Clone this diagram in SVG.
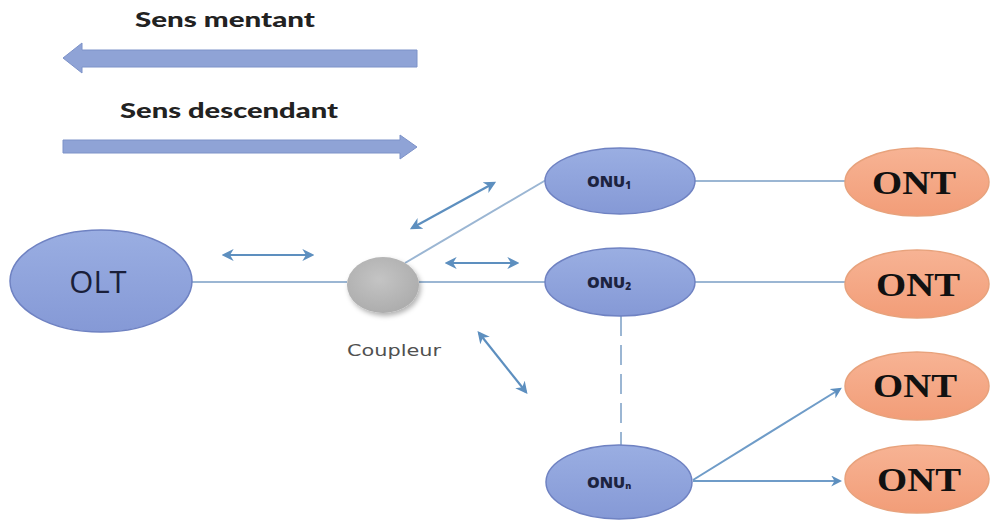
<svg xmlns="http://www.w3.org/2000/svg" width="995" height="521" viewBox="0 0 995 521">
<defs>
<style>
.link{stroke:#9bb6d3;stroke-width:2;fill:none}
.dbl{stroke:#5d8fbf;stroke-width:2.2;fill:none;marker-start:url(#ah);marker-end:url(#ah)}
.one{stroke:#6f9cc8;stroke-width:2;fill:none;marker-end:url(#ah)}
.onu{fill:url(#gOnu);stroke:#6f82c2;stroke-width:1.5}
.ont{fill:url(#gOnt);stroke:#e8a27c;stroke-width:1.5}
.big{fill:#8fa3d6;stroke:#7d92c8;stroke-width:1}
.h{font-family:Lato,"Open Sans","Liberation Sans",sans-serif;font-weight:900;font-size:20px;fill:#222}
.onut{font-family:"Open Sans","Liberation Sans",sans-serif;font-weight:800;font-size:16px;fill:#1c2340}
.ontt{font-family:"Liberation Serif",serif;font-weight:bold;font-size:33px;fill:#111}
</style>
<marker id="ah" viewBox="0 0 10 10" refX="8" refY="5" markerWidth="5.5" markerHeight="5.5" orient="auto-start-reverse" markerUnits="strokeWidth">
<path d="M0,0 L10,5 L0,10 L3,5 Z" fill="#5d8fbf"/>
</marker>
<linearGradient id="gOnu" x1="0" y1="0" x2="0" y2="1">
<stop offset="0" stop-color="#9aaee2"/><stop offset="1" stop-color="#8599d6"/>
</linearGradient>
<linearGradient id="gOnt" x1="0" y1="0" x2="0" y2="1">
<stop offset="0" stop-color="#f7b394"/><stop offset="1" stop-color="#f29d78"/>
</linearGradient>
<radialGradient id="gCoup" cx="0.45" cy="0.4" r="0.6">
<stop offset="0" stop-color="#c4c4c4"/><stop offset="1" stop-color="#adadad"/>
</radialGradient>
<filter id="sh" x="-30%" y="-30%" width="160%" height="170%">
<feDropShadow dx="2" dy="3" stdDeviation="2.5" flood-color="#000" flood-opacity="0.3"/>
</filter>
</defs>
<rect width="995" height="521" fill="#ffffff"/>

<g id="legend">
<text class="h" x="135" y="27" textLength="180" lengthAdjust="spacingAndGlyphs">Sens mentant</text>
<path class="big" d="M63,58 L82,43 L82,50 L417,50 L417,67 L82,67 L82,73 Z"/>
<text class="h" x="120" y="118" textLength="218" lengthAdjust="spacingAndGlyphs">Sens descendant</text>
<path class="big" d="M63,140 L400,140 L400,135 L417,147 L400,159 L400,153 L63,153 Z"/>
</g>

<g id="connectors">
<line class="link" x1="192" y1="282" x2="347" y2="282"/>
<line class="link" x1="419" y1="282" x2="545" y2="282"/>
<line class="link" x1="405" y1="263" x2="546" y2="180"/>
<line class="link" x1="695" y1="181" x2="846" y2="181"/>
<line class="link" x1="695" y1="282" x2="846" y2="282"/>
<line class="link" x1="621" y1="316" x2="621" y2="445" stroke-dasharray="20,9"/>
<line class="one" x1="693" y1="480" x2="840" y2="389"/>
<line class="one" x1="693" y1="481" x2="840" y2="481"/>
<line class="dbl" x1="224" y1="255" x2="312" y2="255"/>
<line class="dbl" x1="447" y1="263" x2="517" y2="263"/>
<line class="dbl" x1="412" y1="228" x2="494" y2="183"/>
<line class="dbl" x1="479" y1="333" x2="526" y2="392"/>
</g>

<g id="olt">
<ellipse class="onu" cx="101" cy="281" rx="91" ry="51"/>
<text x="98" y="293" text-anchor="middle" font-family="'Open Sans','Liberation Sans',sans-serif" font-size="31" fill="#1a1f3a">OLT</text>
</g>

<g id="coupleur">
<ellipse cx="383" cy="285" rx="36" ry="28" fill="url(#gCoup)" filter="url(#sh)"/>
<text x="347" y="356" textLength="94" lengthAdjust="spacingAndGlyphs" font-family="'DejaVu Sans','Liberation Sans',sans-serif" font-size="16" fill="#505050">Coupleur</text>
</g>

<g id="onu1">
<ellipse class="onu" cx="620" cy="181" rx="75" ry="33"/>
<text class="onut" x="587" y="187">ONU<tspan font-size="10" dy="2">1</tspan></text>
</g>
<g id="onu2">
<ellipse class="onu" cx="620" cy="282" rx="75" ry="34"/>
<text class="onut" x="587" y="288">ONU<tspan font-size="10" dy="2">2</tspan></text>
</g>
<g id="onun">
<ellipse class="onu" cx="619" cy="482" rx="73" ry="37"/>
<text class="onut" x="587" y="488">ONU<tspan font-size="9" dy="1">n</tspan></text>
</g>

<g id="ont1">
<ellipse class="ont" cx="917" cy="182" rx="72" ry="34"/>
<text class="ontt" x="872" y="194" textLength="84" lengthAdjust="spacingAndGlyphs">ONT</text>
</g>
<g id="ont2">
<ellipse class="ont" cx="917" cy="284" rx="72" ry="34"/>
<text class="ontt" x="876" y="296" textLength="84" lengthAdjust="spacingAndGlyphs">ONT</text>
</g>
<g id="ont3">
<ellipse class="ont" cx="917" cy="386" rx="72" ry="34"/>
<text class="ontt" x="873" y="397" textLength="84" lengthAdjust="spacingAndGlyphs">ONT</text>
</g>
<g id="ont4">
<ellipse class="ont" cx="917" cy="479" rx="72" ry="34"/>
<text class="ontt" x="877" y="491" textLength="84" lengthAdjust="spacingAndGlyphs">ONT</text>
</g>
</svg>
